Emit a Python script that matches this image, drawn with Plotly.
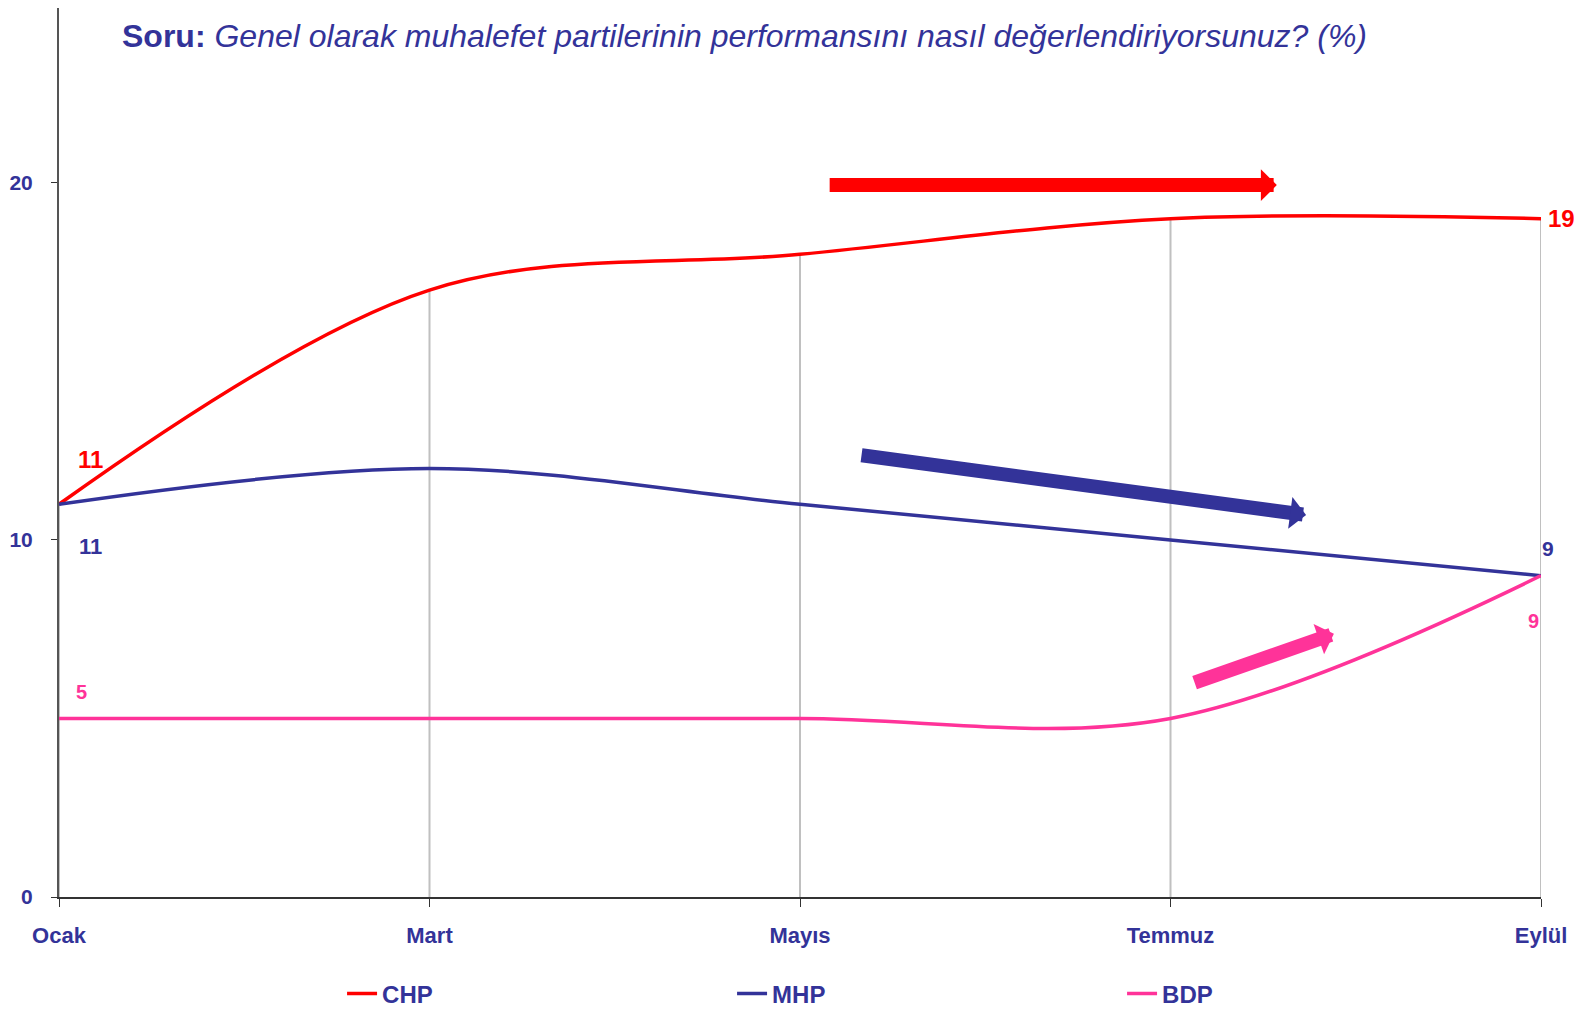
import plotly.graph_objects as go

months = ["Ocak", "Mart", "Mayıs", "Temmuz", "Eylül"]
chp = [11, 17, 18, 19, 19]
mhp = [11, 12, 11, 10, 9]
bdp = [5, 5, 5, 5, 9]

NAVY = "#333399"
RED = "#FF0000"
PINK = "#FF3399"
FONT = "Liberation Sans, Arial, sans-serif"

series = [("CHP", chp, RED), ("MHP", mhp, NAVY), ("BDP", bdp, PINK)]
xs = list(range(len(months)))

fig = go.Figure()

# drop lines from the top series down to the axis
top = [max(v) for v in zip(chp, mhp, bdp)]
for x, y in zip(xs, top):
    fig.add_shape(type="line", x0=x, x1=x, y0=0, y1=y, xref="x", yref="y",
                  line=dict(color="#C0C0C0", width=2), layer="below")

for name, vals, color in series:
    fig.add_scatter(x=xs, y=vals, name=f"<b>{name}</b>", mode="lines",
                    line=dict(color=color, width=3.5, shape="spline", smoothing=1.0))

# start / end value labels
labels = [
    # series, index, color, size, xshift, yshift
    (chp, 0, RED, 24, 31, 45),
    (mhp, 0, NAVY, 22, 31, -42),
    (bdp, 0, PINK, 20, 22, 26),
    (chp, -1, RED, 24, 20, 0),
    (mhp, -1, NAVY, 21, 7, 27),
    (bdp, -1, PINK, 20, -8, -45),
]
for vals, i, color, size, dx, dy in labels:
    fig.add_annotation(x=xs[i], y=vals[i], text=f"<b>{vals[i]}</b>", showarrow=False,
                       xshift=dx, yshift=dy, font=dict(color=color, size=size, family=FONT))

# trend arrows (tail -> head in data coords)
arrows = [
    (RED, 2.076, 19.94, 3.287, 19.94),
    (NAVY, 2.162, 12.38, 3.366, 10.70),
    (PINK, 3.061, 5.99, 3.441, 7.37),
]
for color, x0, y0, x1, y1 in arrows:
    fig.add_annotation(x=x1, y=y1, ax=x0, ay=y0, xref="x", yref="y", axref="x", ayref="y",
                       text="", showarrow=True, arrowhead=1, arrowsize=0.38,
                       arrowwidth=14, arrowcolor=color)

# page has an 8px body margin, so the figure is laid out 8px up/left of the target
fig.update_layout(
    width=1591, height=1009,
    plot_bgcolor="white", paper_bgcolor="white",
    margin=dict(l=51, r=58, t=0, b=120),
    font=dict(family=FONT, color=NAVY),
    title=dict(
        text="<b>Soru:</b> <i>Genel olarak muhalefet partilerinin performansını nasıl değerlendiriyorsunuz? (%)</i>",
        x=114 / 1591, xanchor="left", y=1 - 28 / 1009, yanchor="middle", pad=dict(t=0, l=0),
        font=dict(size=32, color=NAVY, family=FONT),
    ),
    legend=dict(orientation="h", x=0.191, xanchor="left", y=-0.109, yanchor="middle",
                entrywidth=345, entrywidthmode="pixels",
                font=dict(size=24, color=NAVY, family=FONT), itemwidth=30),
)

fig.update_xaxes(range=[0, 4], tickvals=xs, ticktext=[f"<b>{m}</b>" for m in months],
                 showgrid=False, zeroline=False, showline=True, linecolor="#333333", linewidth=2,
                 ticks="outside", ticklen=8, tickcolor="#333333", ticklabelstandoff=10,
                 automargin=False, tickfont=dict(size=22, color=NAVY, family=FONT))
fig.update_yaxes(range=[0, 24.9], tickvals=[0, 10, 20], ticktext=["<b>0</b>", "<b>10</b>", "<b>20</b>"],
                 showgrid=False, zeroline=False, showline=True, linecolor="#555555", linewidth=2,
                 ticks="outside", ticklen=6, tickcolor="#333333", ticklabelstandoff=14,
                 automargin=False, tickfont=dict(size=21, color=NAVY, family=FONT))

fig.write_html("out.html")
